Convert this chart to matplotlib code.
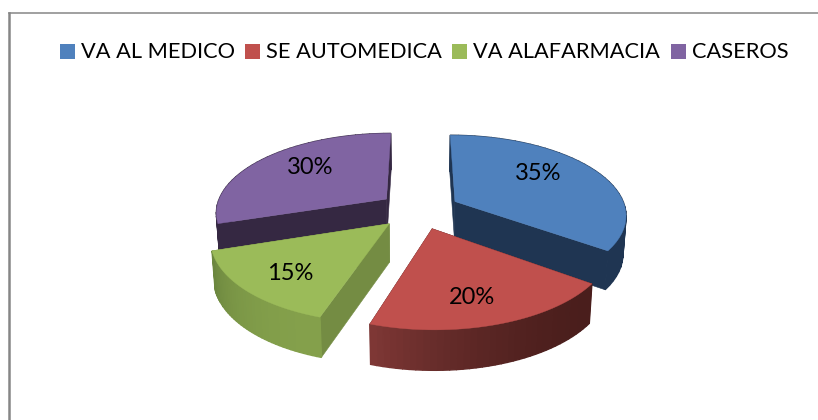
import numpy as np
import matplotlib
matplotlib.use("Agg")
import matplotlib.pyplot as plt
from matplotlib.colors import to_rgb
from matplotlib.patches import Polygon, Rectangle

categories = ["VA AL MEDICO", "SE AUTOMEDICA", "VA ALAFARMACIA", "CASEROS"]
values = [35, 20, 15, 30]

top_colors = ["#4F81BD", "#C0504D", "#9BBB59", "#8064A2"]
side_colors = ["#1F3552", "#4F2020", "#748C43", "#352842"]
outer_start = ["#1F3552", "#4A1E1C", "#84A04B", "#352842"]
outer_end = ["#1F3552", "#7E3735", "#6C873F", "#352842"]

# projection of the tilted pie, in pixels
cx, cy = 419, 210
rx, ry = 171, 79
explode = 0.24
persp = 0.155
depth = 38

plt.rcParams["font.family"] = ["Lato", "DejaVu Sans"]

fig = plt.figure(figsize=(8.18, 4.2), dpi=100)
ax = fig.add_axes([0, 0, 1, 1])
ax.set_xlim(0, 818)
ax.set_ylim(420, 0)
ax.axis("off")


def project(X, Y):
    p = 1 / (1 + persp * Y)
    x = cx + rx * X * p
    y = cy - ry * Y * p
    return x, y, p


def top_point(ox, oy, t):
    x, y, p = project(ox + np.cos(t), oy + np.sin(t))
    return x, y


def bottom_point(ox, oy, t):
    x, y, p = project(ox + np.cos(t), oy + np.sin(t))
    x = cx + (x - cx) * 0.985
    return x, y + depth * p ** 0.3


def apex(ox, oy):
    x, y, p = project(ox, oy)
    return (x, y), (cx + (x - cx) * 0.985, y + depth * p ** 0.3)


edges = 90 - 3.6 * np.cumsum([0] + values)
wedges = []
for i in range(len(values)):
    t0, t1 = np.radians(edges[i]), np.radians(edges[i + 1])
    mid = (t0 + t1) / 2
    wedges.append((i, t0, t1, explode * np.cos(mid), explode * np.sin(mid)))

# back slices first, so the front ones cover them
for i, t0, t1, ox, oy in sorted(wedges, key=lambda w: -w[4]):
    a_top, a_bot = apex(ox, oy)

    for t in (t0, t1):
        wall = [a_top, top_point(ox, oy, t), bottom_point(ox, oy, t), a_bot]
        ax.add_patch(Polygon(wall, closed=True, fc=side_colors[i], ec=side_colors[i], lw=0.4, zorder=2))

    ts = np.linspace(t0, t1, 40)
    c0 = np.array(to_rgb(outer_start[i]))
    c1 = np.array(to_rgb(outer_end[i]))
    for j in range(len(ts) - 1):
        quad = [top_point(ox, oy, ts[j]), top_point(ox, oy, ts[j + 1]),
                bottom_point(ox, oy, ts[j + 1]), bottom_point(ox, oy, ts[j])]
        col = c0 + (c1 - c0) * (j / (len(ts) - 2)) ** 2
        ax.add_patch(Polygon(quad, closed=True, fc=col, ec=col, lw=1.0, zorder=2))

    face = [a_top] + [top_point(ox, oy, t) for t in ts]
    ax.add_patch(Polygon(face, closed=True, fc=top_colors[i], ec=top_colors[i], lw=0.3, zorder=2))

# percent labels
label_x = [538, 472, 290, 310]
label_y = [173, 297, 273, 168]
for v, x, y in zip(values, label_x, label_y):
    ax.text(x, y, f"{v}%", ha="center", va="center", fontsize=17, color="black", zorder=5)

# legend
swatch_x = [60, 245, 452, 671]
for name, col, x in zip(categories, top_colors, swatch_x):
    ax.add_patch(Rectangle((x, 44), 15, 15, fc=col, ec="none", zorder=5))
    ax.text(x + 21, 52.5, name, ha="left", va="center", fontsize=15.7, color="black", zorder=5)

# chart frame, only left and top are in the crop
ax.plot([9, 9], [420, 12.5], color="#868686", lw=1.8, solid_joinstyle="miter", zorder=1)
ax.plot([9, 818], [12.5, 12.5], color="#868686", lw=1.1, zorder=1)

fig.savefig("out.png", dpi=100)
